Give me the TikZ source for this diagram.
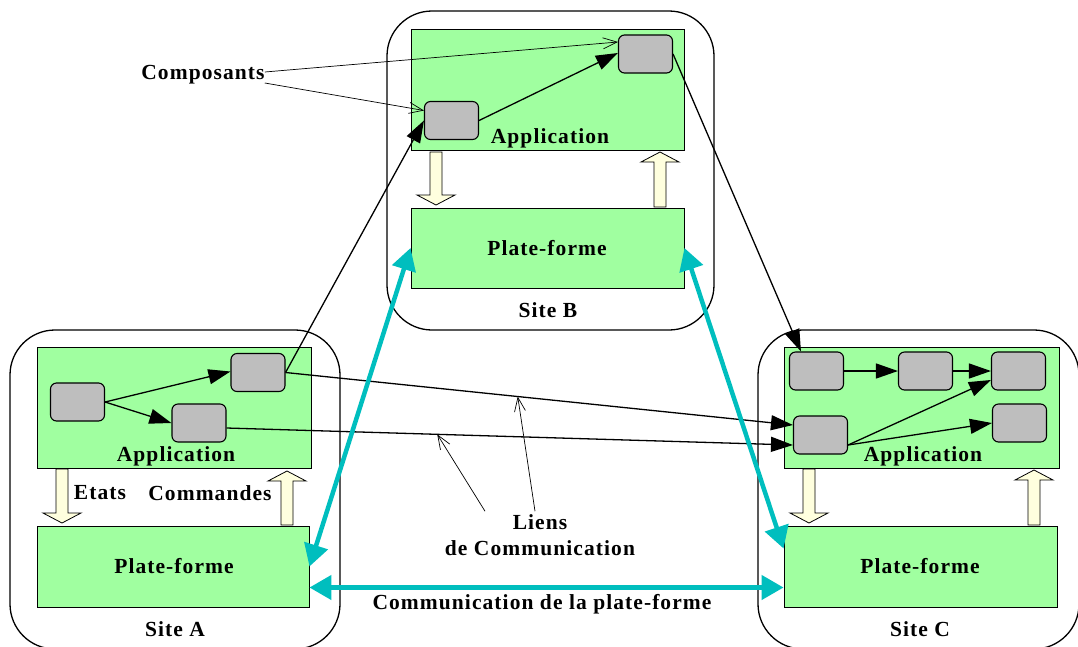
\documentclass[tikz,border=0pt]{standalone}
\usepackage{fontspec}
\setmainfont{Liberation Serif}
\newfontfamily\lblfont[LetterSpace=5]{Liberation Serif}
\usetikzlibrary{arrows.meta}
\definecolor{appgreen}{RGB}{160,255,160}
\definecolor{compgray}{RGB}{190,190,190}
\definecolor{cream}{RGB}{255,255,222}
\definecolor{linkcyan}{RGB}{0,190,190}
\tikzset{
  site/.style={draw=black, line width=1.3pt, rounded corners=45pt},
  layer/.style={draw=black, line width=0.9pt, fill=appgreen, inner sep=0pt},
  comp/.style={draw=black, line width=1.1pt, fill=compgray, rounded corners=6pt,
    minimum width=54pt, minimum height=38pt, inner sep=0pt},
  lbl/.style={font=\lblfont\fontsize{21.5}{24}\selectfont\bfseries, inner sep=0pt},
  flow/.style={line width=1.3pt, -{Triangle[length=22pt,width=15pt]}},
  pointer/.style={line width=0.7pt, -{Straight Barb[length=14pt,width=11pt]}},
  platelink/.style={draw=linkcyan, line width=4.5pt,
    {Triangle[length=22pt,width=24pt]}-{Triangle[length=22pt,width=24pt]}},
  blk/.style={draw=black, line width=0.8pt, fill=cream},
  pics/downblk/.style={code={
    \draw[blk] (-6,0) -- (6,0) -- (6,#1-10) -- (19,#1-10) -- (0,#1)
      -- (-19,#1-10) -- (-6,#1-10) -- cycle;}},
  pics/upblk/.style={code={
    \draw[blk] (-6,0) -- (6,0) -- (6,10-#1) -- (19,10-#1) -- (0,-#1)
      -- (-19,10-#1) -- (-6,10-#1) -- cycle;}},
}
\begin{document}
\begin{tikzpicture}[x=1pt,y=-1pt]
\useasboundingbox (0,0) rectangle (1078,646);
\clip (0,0) rectangle (1078,646);

% sites
\draw[site] (387,11) rectangle (714,330);
\draw[site] (10,330) rectangle (340,649);
\draw[site] (758,330) rectangle (1079,649);

% application and platform layers
\node[layer, minimum width=273pt, minimum height=121pt] (appB) at (547.5,89.5) {};
\node[layer, minimum width=273pt, minimum height=80pt]  (pB)   at (547.5,248) {};
\node[layer, minimum width=274pt, minimum height=121pt] (appA) at (174,407.5) {};
\node[layer, minimum width=272pt, minimum height=81pt]  (pA)   at (173,566.5) {};
\node[layer, minimum width=275pt, minimum height=121pt] (appC) at (921.5,407.5) {};
\node[layer, minimum width=273pt, minimum height=81pt]  (pC)   at (920.5,566.5) {};

% state / command block arrows
\pic at (436,152) {downblk=53};
\pic at (660,207) {upblk=55};
\pic at (62,469) {downblk=54};
\pic at (287,525) {upblk=54};
\pic at (809,469) {downblk=54};
\pic at (1034,525) {upblk=55};

% components
\node[comp] (bC1) at (451.5,120.5) {};
\node[comp] (bC2) at (645.5,54) {};
\node[comp] (aA1) at (77.5,402) {};
\node[comp] (aA2) at (258,372.5) {};
\node[comp] (aA3) at (199,423) {};
\node[comp] (cC1) at (816.5,371) {};
\node[comp] (cC2) at (925.5,371) {};
\node[comp] (cC3) at (1018.5,371) {};
\node[comp] (cC4) at (820.5,435) {};
\node[comp] (cC5) at (1019.5,423) {};

% links between components
\draw[flow] (bC1.east) -- ([yshift=1pt]bC2.west);
\draw[flow] (aA1.east) -- ([yshift=1pt]aA2.west);
\draw[flow] (aA1.east) -- (aA3.west);
\draw[flow] (cC1.east) -- (cC2.west);
\draw[flow] (cC2.east) -- (cC3.west);
\draw[flow] ([yshift=-10pt]cC4.east) -- ([yshift=-9pt]cC3.west);
\draw[flow] ([yshift=-10pt]cC4.east) -- (cC5.west);
\draw[flow] (aA2.east) -- (bC1.west);
\draw[flow] (bC2.east) -- ([xshift=12pt]cC1.north west);
\draw[flow] (aA2.east) -- ([yshift=10pt]cC4.west) coordinate[pos=0.4576] (l2);
\draw[flow] ([yshift=-5pt]aA3.east) -- ([yshift=-10pt]cC4.west) coordinate[pos=0.372] (l1);

% platform communication
\draw[platelink] (pA.east) -- (pB.west);
\draw[platelink] (pB.east) -- ([yshift=18pt]pC.west);
\draw[platelink] ([yshift=-21pt]pA.east) -- ([yshift=-21pt]pC.west);

% labels
\node[lbl] at (550,138) {Application};
\node[lbl] at (176,456) {Application};
\node[lbl] at (923,456) {Application};
\node[lbl] at (547,248) {Plate-forme};
\node[lbl] at (174,566) {Plate-forme};
\node[lbl] at (920,566) {Plate-forme};
\node[lbl] at (548,310) {Site B};
\node[lbl] at (175,629) {Site A};
\node[lbl] at (920,629) {Site C};
\node[lbl] at (100,493) {Etats};
\node[lbl] at (210,493) {Commandes};
\node[lbl] at (542,604) {Communication de la plate-forme};
\node[lbl] (comp) at (203,75) {Composants};
\node[lbl, align=center] (liens) at (540,535) {Liens\\[2pt]de Communication};

\draw[pointer] ([yshift=3pt]comp.east) -- ([yshift=12pt]bC2.west);
\draw[pointer] ([yshift=-8pt]comp.east) -- ([yshift=10pt]bC1.west);
\draw[pointer] ([xshift=-55pt,yshift=3pt]liens.north) -- (l1);
\draw[pointer] ([xshift=-5pt,yshift=3pt]liens.north) -- (l2);
\end{tikzpicture}
\end{document}
